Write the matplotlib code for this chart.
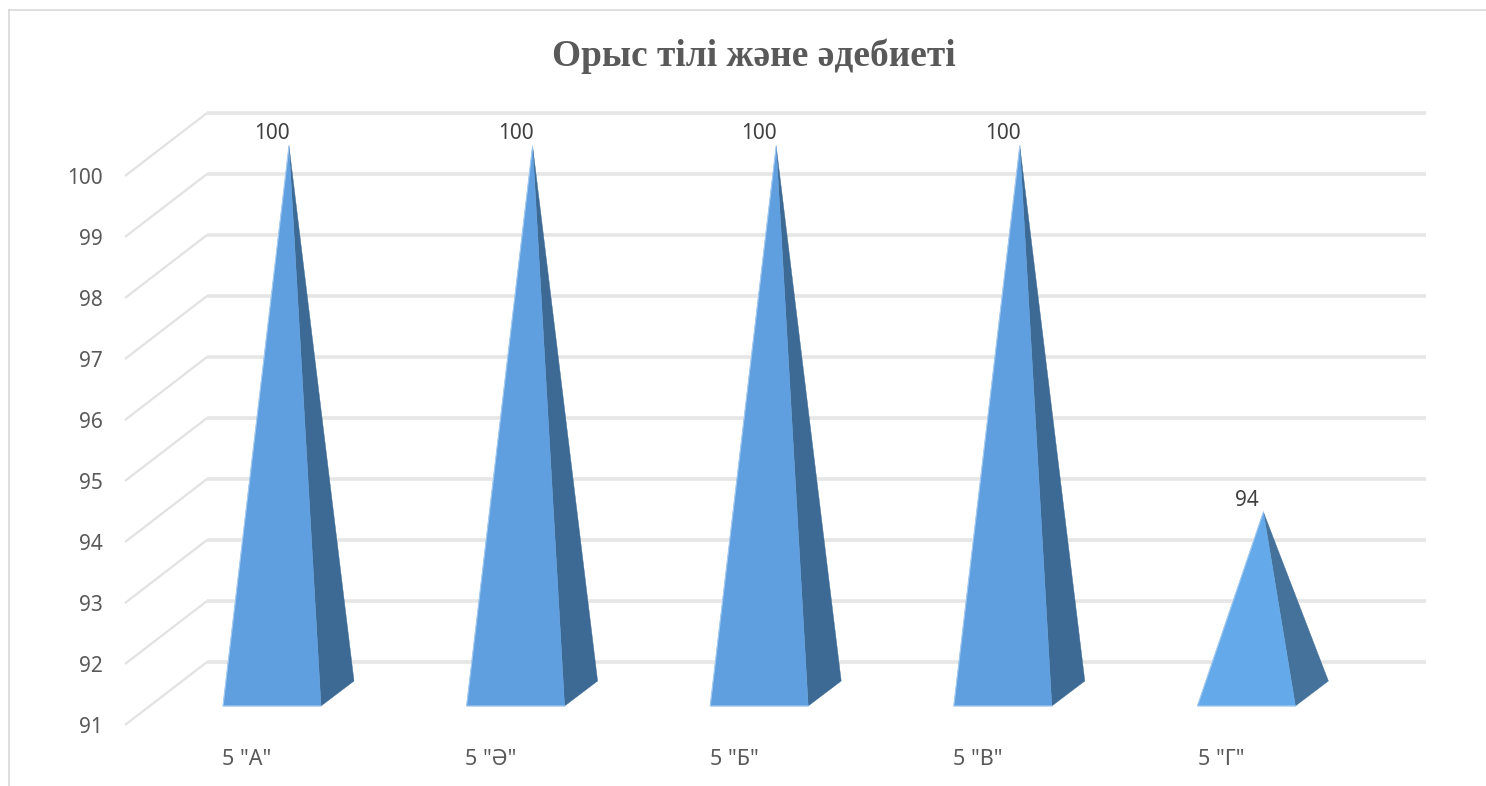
import matplotlib
matplotlib.use("Agg")
import matplotlib.pyplot as plt
from matplotlib.patches import Polygon

title = "Орыс тілі және әдебиеті"
categories = ['5 "А"', '5 "Ә"', '5 "Б"', '5 "В"', '5 "Г"']
values = [100, 100, 100, 100, 94]
y_ticks = [91, 92, 93, 94, 95, 96, 97, 98, 99, 100]

W, H = 1486, 786
L, R, T, B = 125, 1426, 113, 725
STEP_X, STEP_Y = 243.6, 61.0
CAT0 = 247.0
GRID = "#e6e6e6"
TEXT = "#595959"

fig = plt.figure(figsize=(W / 100, H / 100), dpi=100, facecolor="white")
ax = fig.add_axes([L / W, (H - B) / H, (R - L) / W, (B - T) / H])
ax.set_xlim((L - CAT0) / STEP_X, (R - CAT0) / STEP_X)
ax.set_ylim(91, 91 + (B - T) / STEP_Y)
ax.patch.set_alpha(0)
for s in ax.spines.values():
    s.set_visible(False)

def px(x, y, dx=0.0, dy=0.0):
    """Data position shifted by a pixel offset (dy positive = up)."""
    return x + dx / STEP_X, y + dy / STEP_Y

# gridlines: side wall diagonal + back wall
x_left = ax.get_xlim()[0]
x_right = ax.get_xlim()[1]
for v in y_ticks:
    x0, y0 = x_left, v
    x1, y1 = px(x_left, v, 82, 63)
    x2, y2 = x_right, y1
    ax.plot([x0, x1], [y0, y1], color="#e2e2e2", lw=1.6, clip_on=False,
            solid_capstyle="butt", zorder=1)
    ax.plot([x1, x2], [y1, y2], color=GRID, lw=2.6, clip_on=False,
            solid_capstyle="butt", zorder=1)

# pyramids
for i, v in enumerate(values):
    cx = i
    front = "#64aaea" if v < 100 else "#5f9fdf"
    side = "#44729b" if v < 100 else "#3c6a94"
    apex = px(cx, v, 42, 30)
    fl = px(cx, 91, -24, 19)
    fr = px(cx, 91, 74, 19)
    br = px(cx, 91, 107, 44)
    ax.add_patch(Polygon([apex, fr, br], closed=True, facecolor=side,
                         edgecolor=side, lw=0.3, clip_on=False, zorder=3))
    ax.add_patch(Polygon([apex, fl, fr], closed=True, facecolor=front,
                         edgecolor=front, lw=0.3, clip_on=False, zorder=4))
    ax.plot([apex[0], fl[0], fr[0]], [apex[1], fl[1], fr[1]], color="#a6cbf0",
            lw=0.8, clip_on=False, zorder=4.5, solid_joinstyle="miter")
    lx, ly = px(cx, v, 25, 42)
    ax.text(lx, ly, str(v), ha="center", va="center", fontsize=15,
            family="Noto Sans", color="#404040", zorder=5, clip_on=False)

ax.set_yticks(y_ticks)
ax.set_yticklabels([str(v) for v in y_ticks], fontsize=15, family="Noto Sans", color=TEXT)
ax.set_xticks(range(len(categories)))
ax.set_xticklabels(categories, fontsize=15.5, family="Noto Sans", color=TEXT)
ax.tick_params(axis="y", length=0, pad=16)
ax.tick_params(axis="x", length=0, pad=17)

fig.text(754 / W, 1 - 56 / H, title, ha="center", va="center", fontsize=26.9,
         family="Liberation Serif", fontweight="bold", color=TEXT)

# chart frame
fig.add_artist(plt.Line2D([9 / W, 9 / W], [0, 1 - 9.5 / H], color="#d9d9d9", lw=1.2))
fig.add_artist(plt.Line2D([9 / W, 1], [1 - 9.5 / H, 1 - 9.5 / H], color="#d9d9d9", lw=1.2))

fig.savefig("out.png", dpi=100, facecolor="white")
